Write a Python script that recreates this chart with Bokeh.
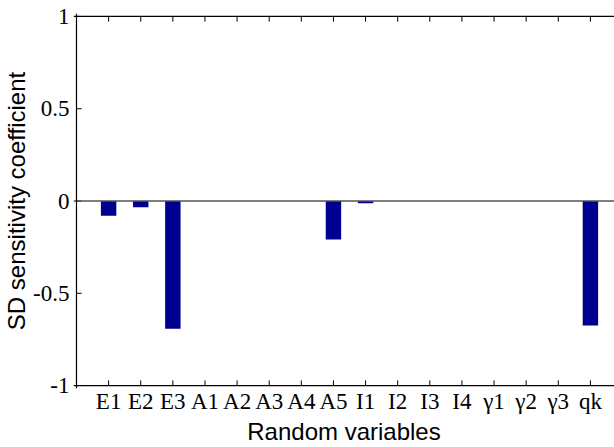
from bokeh.plotting import figure
from bokeh.models import Range1d, FixedTicker, Span, CustomJSTickFormatter
from bokeh.embed import file_html
from bokeh.resources import INLINE

categories = ["E1", "E2", "E3", "A1", "A2", "A3", "A4", "A5",
              "I1", "I2", "I3", "I4", "γ1", "γ2", "γ3", "qk"]
positions = list(range(1, len(categories) + 1))
sd_sensitivity = [-0.080, -0.034, -0.692, 0.0, 0.0, 0.0, 0.0, -0.208,
                  -0.012, 0.0, 0.0, 0.0, 0.0, 0.0, 0.0, -0.675]
y_ticks = [-1, -0.5, 0, 0.5, 1]
y_min, y_max = -1, 1
x_min, x_max = 0, 16.75
pad_x, pad_y = 0.093, 0.016          # small margin so the box lines sit inside the frame
tick_x, tick_y = 0.16, 0.028          # inward tick length
x_title = "Random variables"
y_title = "SD sensitivity coefficient"

p = figure(width=614, height=447,
           x_range=Range1d(x_min - pad_x, x_max), y_range=Range1d(y_min - pad_y, y_max + pad_y),
           output_backend="svg", toolbar_location=None,
           min_border_left=72, min_border_right=0,
           min_border_top=13, min_border_bottom=54)
p.outline_line_color = None
p.xgrid.visible = False
p.ygrid.visible = False
p.background_fill_color = None
p.border_fill_color = None

p.vbar(x=positions, top=sd_sensitivity, bottom=0, width=0.48,
       fill_color="#000090", line_color=None)

# zero line
p.add_layout(Span(location=0, dimension="width", line_color="#555555", line_width=1.5))

# box lines (left, bottom, top)
p.add_layout(Span(location=x_min, dimension="height", line_color="black", line_width=1.2))
p.add_layout(Span(location=y_min, dimension="width", line_color="black", line_width=1.2))
p.add_layout(Span(location=y_max, dimension="width", line_color="black", line_width=1.2))

# inward tick marks
n = len(positions)
p.segment(x0=positions, y0=[y_min] * n, x1=positions, y1=[y_min + tick_y] * n,
          line_color="black", line_width=1)
p.segment(x0=positions, y0=[y_max] * n, x1=positions, y1=[y_max - tick_y] * n,
          line_color="black", line_width=1)
m = len(y_ticks)
p.segment(x0=[x_min] * m, y0=y_ticks, x1=[x_min + tick_x] * m, y1=y_ticks,
          line_color="black", line_width=1)

# bottom axis (labels only)
xa = p.xaxis[0]
xa.ticker = FixedTicker(ticks=positions)
xa.major_label_overrides = {pos: lab for pos, lab in zip(positions, categories)}
xa.major_label_text_font = "Liberation Serif"
xa.major_label_text_font_size = "23px"
xa.major_label_text_color = "black"
xa.major_label_standoff = 0
xa.major_tick_in = 0
xa.major_tick_out = 0
xa.major_tick_line_color = None
xa.minor_tick_line_color = None
xa.axis_line_color = None
xa.axis_label = x_title
xa.axis_label_text_font = "Liberation Sans"
xa.axis_label_text_font_size = "24px"
xa.axis_label_text_font_style = "normal"
xa.axis_label_text_color = "black"
xa.axis_label_standoff = 1

# left axis (labels only)
ya = p.yaxis[0]
ya.ticker = FixedTicker(ticks=y_ticks)
ya.formatter = CustomJSTickFormatter(code="return tick.toString();")
ya.major_label_text_font = "Liberation Serif"
ya.major_label_text_font_size = "23px"
ya.major_label_text_color = "black"
ya.major_label_standoff = 4
ya.major_tick_in = 0
ya.major_tick_out = 0
ya.major_tick_line_color = None
ya.minor_tick_line_color = None
ya.axis_line_color = None
ya.axis_label = y_title
ya.axis_label_text_font = "Liberation Sans"
ya.axis_label_text_font_size = "24px"
ya.axis_label_text_font_style = "normal"
ya.axis_label_text_color = "black"
ya.axis_label_standoff = 0

open("out.html", "w").write(file_html(p, INLINE))
